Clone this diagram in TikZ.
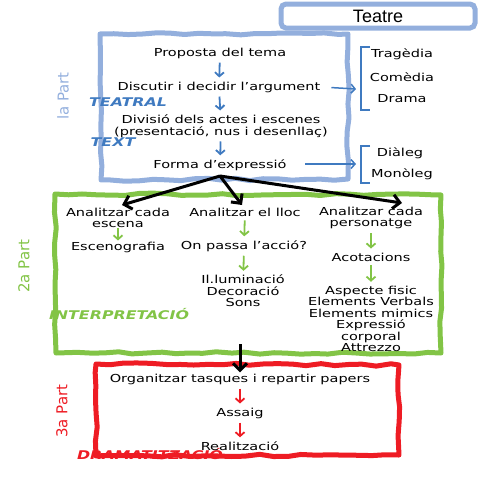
\documentclass[tikz,border=0pt]{standalone}
\usepackage{fontspec}
\setmainfont{DejaVu Sans}[FakeStretch=1.32]
\newfontfamily\titlefont{Liberation Sans}
\newfontfamily\sidefont{DejaVu Sans}
\usetikzlibrary{arrows.meta, positioning, calc, decorations.pathmorphing}

\definecolor{partblue}{HTML}{93AFDD}
\definecolor{arrblue}{HTML}{3F7AC0}
\definecolor{partgreen}{HTML}{82C446}
\definecolor{partred}{HTML}{EE1C24}

\begin{document}
\begin{tikzpicture}[x=1pt, y=-1pt,
    txt/.style={inner sep=1pt, font=\fontsize{11}{11.5}\selectfont, align=center},
    side/.style={font=\sidefont\fontsize{15}{15}\selectfont, rotate=90},
    hand/.style={font=\bfseries\itshape\fontsize{12}{12}\selectfont},
    flow/.style={-{Straight Barb[length=4pt, width=9pt]}, line width=1.8pt, shorten <=3pt, shorten >=3pt},
    big/.style={-{Straight Barb[length=7pt, width=14pt]}, line width=3pt, black},
    handbox/.style={line width=5pt, line join=round, decorate,
        decoration={random steps, segment length=14pt, amplitude=1.2pt}}
]
    \pgfmathsetseed{7}
    \useasboundingbox (0,0) rectangle (480,480);

    % Title
    \node[draw=partblue, line width=5pt, rounded corners=5pt, fill=white,
        minimum width=194pt, minimum height=24pt, font=\titlefont\fontsize{18}{18}\selectfont] (title) at (378,16) {Teatre};

    % 1a Part
    \draw[handbox, partblue] (100,34) -- (348,34) -- (348,179) -- (101,180) -- cycle;
    \node[side, partblue] (p1) at (63,96) {la Part};

    \node[txt] (prop) at (220,53) {Proposta del tema};
    \node[txt] (disc) at (219,87) {Discutir i decidir l'argument};
    \node[txt] (divi) at (221,126) {Divisió dels actes i escenes\\(presentació, nus i desenllaç)};
    \node[txt] (forma) at (220,165) {Forma d'expressió};

    \draw[flow, arrblue] (prop) -- (disc);
    \draw[flow, arrblue] (disc) -- (divi);
    \draw[flow, arrblue] (divi) -- (forma);

    \node[hand, arrblue] (teatral) at (128,102) {TEATRAL};
    \node[hand, arrblue] (text) at (113,142) {TEXT};

    % Genres
    \coordinate (br1) at (356,89);
    \coordinate (br2) at (356,164);
    \draw[arrblue, line width=1.5pt] (370,47) -- (361,47) -- (361,110) -- (370,110);
    \draw[arrblue, line width=1.5pt] (370,146) -- (361,146) -- (361,183) -- (370,183);
    \draw[flow, arrblue, line width=1.5pt, shorten <=10pt, shorten >=0pt] (disc.east) -- (br1);
    \draw[flow, arrblue, line width=1.5pt, shorten <=0pt, shorten >=0pt] (305,164) -- (br2);

    \node[txt] (trag) at (402,54) {Tragèdia};
    \node[txt] (come) at (402,77) {Comèdia};
    \node[txt] (dram) at (402,99) {Drama};
    \node[txt] (dial) at (400,153) {Diàleg};
    \node[txt] (mono) at (402,174) {Monòleg};

    % 2a Part
    \node[hand, partgreen] (interp) at (119,314) {INTERPRETACIÓ};
    \draw[handbox, partgreen] (55,194) -- (441,195) -- (441,353) -- (56,353) -- cycle;
    \node[side, partgreen] (p2) at (24,266) {2a Part};

    \node[txt] (esc) at (118,218) {Analitzar cada\\escena};
    \node[txt] (escg) at (118,247) {Escenografia};

    \node[txt] (lloc) at (245,212) {Analitzar el lloc};
    \node[txt] (onpa) at (244,246) {On passa l'acció?};
    \node[txt] (llum) at (243,291) {Il.luminació\\Decoració\\Sons};

    \node[txt] (pers) at (371,218) {Analitzar cada\\personatge};
    \node[txt] (acot) at (371,257) {Acotacions};
    \node[txt] (aspe) at (371,319) {Aspecte fisic\\Elements Verbals\\Elements mimics\\Expressió\\corporal\\Attrezzo};

    \draw[flow, partgreen, shorten <=-1pt, shorten >=0pt] (esc) -- (escg);
    \draw[flow, partgreen] (lloc) -- (onpa);
    \draw[flow, partgreen] (onpa) -- (llum);
    \draw[flow, partgreen] (pers) -- (acot);
    \draw[flow, partgreen] (acot) -- (aspe);

    \coordinate (split) at (220,176);
    \draw[big] (split) -- (122,205);
    \draw[big] (split) -- (242,205);
    \draw[big] (split) -- (402,203);

    % 3a Part
    \node[hand, partred] (drama) at (150,454) {DRAMATITZACIÓ};
    \draw[handbox, partred] (96,364) -- (399,365) -- (399,455) -- (96,456) -- cycle;
    \node[side, partred] (p3) at (62,411) {3a Part};

    \node[txt] (orga) at (240,379) {Organitzar tasques i repartir papers};
    \node[txt] (assa) at (240,413) {Assaig};
    \node[txt] (real) at (240,446) {Realització};

    \draw[big, shorten >=0pt] (240,344) -- (orga.north);
    \draw[flow, partred] (orga) -- (assa);
    \draw[flow, partred] (assa) -- (real);
\end{tikzpicture}
\end{document}
